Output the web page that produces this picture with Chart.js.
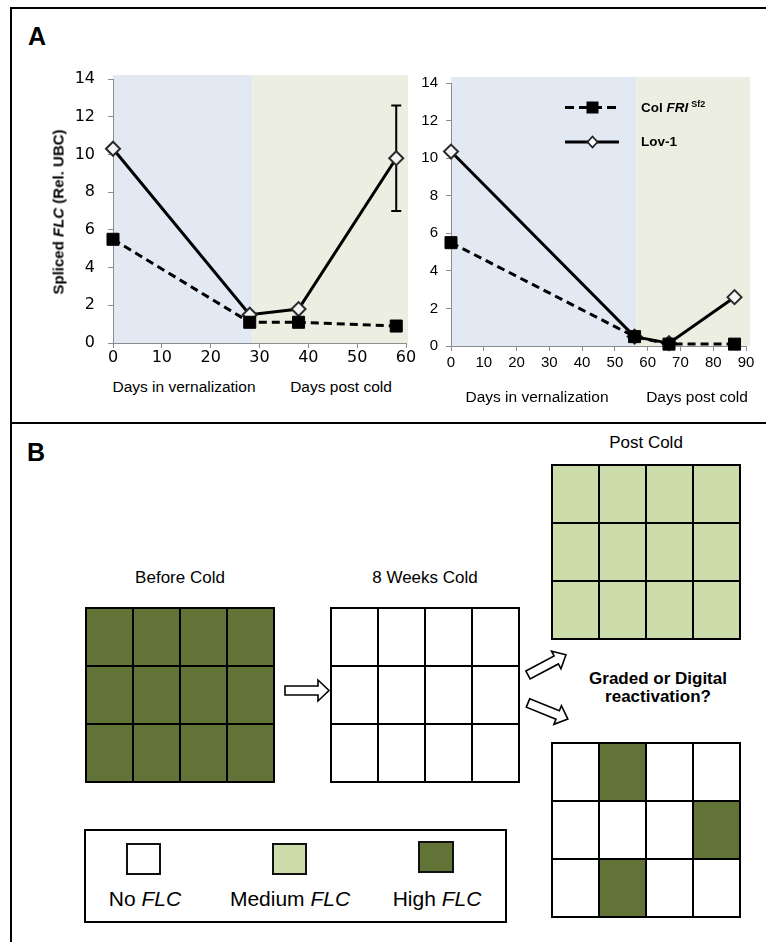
<!DOCTYPE html>
<html>
<head>
<meta charset="utf-8">
<script src="https://cdn.jsdelivr.net/npm/chart.js@4/dist/chart.umd.min.js"></script>
<style>
  html, body { margin: 0; padding: 0; background: #fff; }
  #fig { position: relative; width: 766px; height: 942px; overflow: hidden;
         font-family: "Liberation Sans", Arial, Helvetica, sans-serif; color: #000; }
  .abs { position: absolute; }
  .c { position: absolute; transform: translate(-50%, -50%); white-space: nowrap; line-height: 1; }
  canvas { position: absolute; }
  .rule { position: absolute; background: #000; }
  .swatch { position: absolute; box-sizing: border-box; border: 2px solid #111; }
  sup.s { font-size: 9px; vertical-align: 5px; margin-left: 3px; }
</style>
</head>
<body>
<div id="fig">
  <!-- frame -->
  <div class="rule" style="left:10px; top:7px; width:756px; height:2px"></div>
  <div class="rule" style="left:10px; top:7px; width:2px; height:935px"></div>
  <div class="rule" style="left:10px; top:422px; width:756px; height:2px"></div>

  <div class="abs" style="left:28px; top:24px; font-weight:bold; font-size:25px; line-height:1">A</div>
  <div class="abs" style="left:27px; top:440px; font-weight:bold; font-size:25px; line-height:1">B</div>

  <!-- panel A -->
  <canvas id="chartLeft" width="400" height="320" style="left:20px; top:50px"></canvas>
  <canvas id="chartRight" width="366" height="340" style="left:400px; top:50px"></canvas>

  <div class="c" style="left:58px; top:212px; transform:translate(-50%,-50%) rotate(-90deg); font-weight:bold; font-size:15px">Spliced <i>FLC</i> (Rel. UBC)</div>

  <div class="c" style="left:184px; top:387px; font-size:15.5px">Days in vernalization</div>
  <div class="c" style="left:341px; top:387px; font-size:15.5px">Days post cold</div>
  <div class="c" style="left:537px; top:397px; font-size:15.5px">Days in vernalization</div>
  <div class="c" style="left:697px; top:397px; font-size:15.5px">Days post cold</div>

  <div class="abs" style="left:641px; top:100px; font-weight:bold; font-size:13.5px; line-height:1">Col <i>FRI</i><sup class="s">Sf2</sup></div>
  <div class="abs" style="left:641px; top:135px; font-weight:bold; font-size:13.5px; line-height:1">Lov-1</div>

  <!-- panel B -->
  <div class="c" style="left:180px; top:577px; font-size:17px">Before Cold</div>
  <div class="c" style="left:425px; top:577px; font-size:17px">8 Weeks Cold</div>
  <div class="c" style="left:646px; top:442px; font-size:17px">Post Cold</div>
  <div class="c" style="left:658px; top:688px; font-weight:bold; font-size:17px; line-height:18px; text-align:center">Graded or Digital<br>reactivation?</div>

  <canvas id="gridBefore" width="190" height="176" style="left:85px; top:607px"></canvas>
  <canvas id="gridCold" width="190" height="176" style="left:330px; top:607px"></canvas>
  <canvas id="gridGraded" width="190" height="176" style="left:551px; top:464px"></canvas>
  <canvas id="gridDigital" width="190" height="176" style="left:551px; top:742px"></canvas>

  <div class="abs" style="left:84px; top:829px; width:423px; height:94px; box-sizing:border-box; border:2px solid #000"></div>
  <div class="swatch" style="left:126px; top:843px; width:35px; height:32px; background:#fff"></div>
  <div class="swatch" style="left:272px; top:843px; width:35px; height:32px; background:#cddcab"></div>
  <div class="swatch" style="left:418px; top:841px; width:36px; height:32px; background:#627337"></div>
  <div class="c" style="left:145px; top:898px; font-size:21px">No <i>FLC</i></div>
  <div class="c" style="left:290px; top:898px; font-size:21px">Medium <i>FLC</i></div>
  <div class="c" style="left:437px; top:898px; font-size:21px">High <i>FLC</i></div>

  <!-- legend line samples and arrows -->
  <svg class="abs" style="left:0; top:0; pointer-events:none" width="766" height="942">
    <line x1="565" y1="107.5" x2="620" y2="107.5" stroke="#000" stroke-width="3" stroke-dasharray="9,5"/>
    <rect x="586.5" y="101.5" width="12" height="12" fill="#000"/>
    <line x1="565" y1="142" x2="619" y2="142" stroke="#000" stroke-width="3"/>
    <polygon points="592.5,136.5 597.5,142 592.5,147.5 587.5,142" fill="#fff" stroke="#222" stroke-width="1.8"/>

    <g fill="#fff" stroke="#000" stroke-width="1.6" stroke-linejoin="miter">
      <polygon points="285,686 318,686 318,680 329,690.5 318,701 318,695 285,695"/>
      <g transform="translate(528,675) rotate(-28)">
        <polygon points="0,-4.5 32,-4.5 32,-10 43,0 32,10 32,4.5 0,4.5"/>
      </g>
      <g transform="translate(528,703) rotate(22)">
        <polygon points="0,-4.5 32,-4.5 32,-10 43,0 32,10 32,4.5 0,4.5"/>
      </g>
    </g>
  </svg>
</div>

<script>
// ---- spliced FLC time courses ----
const leftDays     = [0, 28, 38, 58];
const leftColFRI   = [5.5, 1.1, 1.1, 0.9];
const leftLov1     = [10.3, 1.5, 1.8, 9.8];
const leftLov1Err  = [null, null, null, 2.8];

const rightDays    = [0, 56, 66.5, 86.5];
const rightColFRI  = [5.5, 0.5, 0.1, 0.1];
const rightLov1    = [10.35, 0.5, 0.15, 2.6];
const rightLov1Err = [null, null, null, null];

const leftColdEnd  = 28.5;   // end of the cold treatment (days)
const rightColdEnd = 56.6;

const yTickValues      = [0, 2, 4, 6, 8, 10, 12, 14];
const leftXTickValues  = [0, 10, 20, 30, 40, 50, 60];
const rightXTickValues = [0, 10, 20, 30, 40, 50, 60, 70, 80, 90];

// ---- cell states per grid (0 = no FLC, 1 = medium, 2 = high), top row first ----
const beforeColdCells = [[2, 2, 2, 2], [2, 2, 2, 2], [2, 2, 2, 2]];
const weeks8ColdCells = [[0, 0, 0, 0], [0, 0, 0, 0], [0, 0, 0, 0]];
const gradedCells     = [[1, 1, 1, 1], [1, 1, 1, 1], [1, 1, 1, 1]];
const digitalCells    = [[0, 2, 0, 0], [0, 0, 0, 2], [0, 2, 0, 0]];

const COLD_BG = '#e2e9f3';
const POST_BG = '#eceee2';
const AXIS_GRAY = '#8c8c8c';
const CELL_FILL = ['#ffffff', '#cddcab', '#627337'];

// shaded treatment periods behind each plot
const bandPlugin = {
  id: 'bands',
  beforeDraw(chart, args, opts) {
    const { ctx, scales: { x, y } } = chart;
    const top = y.getPixelForValue(y.max) - opts.extendTop;
    const bottom = y.getPixelForValue(0);
    const x0 = x.getPixelForValue(0);
    const xc = x.getPixelForValue(opts.coldEnd);
    const x1 = x.getPixelForValue(x.max) + opts.extendRight;
    ctx.save();
    ctx.fillStyle = COLD_BG;
    ctx.fillRect(x0, top, xc - x0, bottom - top);
    ctx.fillStyle = POST_BG;
    ctx.fillRect(xc, top, x1 - xc, bottom - top);
    ctx.restore();
  }
};

// vertical error bars with caps, drawn under the markers
const errorBarPlugin = {
  id: 'errorBars',
  beforeDatasetsDraw(chart) {
    const { ctx, scales: { x, y } } = chart;
    ctx.save();
    ctx.strokeStyle = '#000';
    ctx.lineWidth = 2;
    chart.data.datasets.forEach(ds => {
      if (!ds.errorBars) return;
      ds.data.forEach((p, i) => {
        const e = ds.errorBars[i];
        if (e == null) return;
        const px = x.getPixelForValue(p.x);
        const yHi = y.getPixelForValue(p.y + e);
        const yLo = y.getPixelForValue(p.y - e);
        ctx.beginPath();
        ctx.moveTo(px, yHi); ctx.lineTo(px, yLo);
        ctx.moveTo(px - 5, yHi); ctx.lineTo(px + 5, yHi);
        ctx.moveTo(px - 5, yLo); ctx.lineTo(px + 5, yLo);
        ctx.stroke();
      });
    });
    ctx.restore();
  }
};

function points(days, values) {
  return days.map((d, i) => ({ x: d, y: values[i] }));
}

function timeCourse(id, o) {
  return new Chart(document.getElementById(id), {
    type: 'line',
    data: {
      datasets: [
        {
          label: 'Col FRI Sf2',
          data: points(o.days, o.col),
          borderColor: '#000', borderWidth: 3, borderDash: [8, 5],
          pointStyle: 'rect', pointRadius: 8.5,
          pointBackgroundColor: '#000', pointBorderColor: '#000', pointBorderWidth: 1,
          tension: 0, clip: false
        },
        {
          label: 'Lov-1',
          data: points(o.days, o.lov),
          errorBars: o.err,
          borderColor: '#000', borderWidth: 3,
          pointStyle: 'rectRot', pointRadius: 7,
          pointBackgroundColor: '#f4f4f4', pointBorderColor: '#2a2a2a', pointBorderWidth: 2,
          tension: 0, clip: false
        }
      ]
    },
    options: {
      responsive: false, animation: false, events: [],
      layout: { padding: { top: o.padTop, right: o.padRight, left: 0, bottom: 0 } },
      plugins: {
        legend: { display: false },
        tooltip: { enabled: false },
        bands: { coldEnd: o.coldEnd, extendTop: o.extTop, extendRight: o.extRight }
      },
      scales: {
        x: {
          type: 'linear', min: 0, max: o.xTicks[o.xTicks.length - 1],
          afterBuildTicks: s => { s.ticks = o.xTicks.map(v => ({ value: v })); },
          afterFit: s => { s.height = o.xAxisH; },
          grid: { drawOnChartArea: false, drawTicks: true, tickLength: 5, color: AXIS_GRAY },
          border: { display: true, color: AXIS_GRAY, width: 1 },
          ticks: { font: o.font, color: '#000', padding: o.xPad, maxRotation: 0, autoSkip: false }
        },
        y: {
          type: 'linear', min: 0, max: 14,
          afterBuildTicks: s => { s.ticks = yTickValues.map(v => ({ value: v })); },
          afterFit: s => { s.width = o.yAxisW; },
          grid: { drawOnChartArea: false, drawTicks: true, tickLength: 5, color: AXIS_GRAY },
          border: { display: true, color: AXIS_GRAY, width: 1 },
          ticks: { font: o.font, color: '#000', padding: o.yPad }
        }
      }
    },
    plugins: [bandPlugin, errorBarPlugin]
  });
}

timeCourse('chartLeft', {
  days: leftDays, col: leftColFRI, lov: leftLov1, err: leftLov1Err,
  xTicks: leftXTickValues, coldEnd: leftColdEnd,
  padTop: 29, padRight: 14, yAxisW: 93, xAxisH: 27, xPad: 0, yPad: 13,
  extTop: 4, extRight: 2,
  font: { family: '"DejaVu Sans", sans-serif', size: 16 }
});

timeCourse('chartRight', {
  days: rightDays, col: rightColFRI, lov: rightLov1, err: rightLov1Err,
  xTicks: rightXTickValues, coldEnd: rightColdEnd,
  padTop: 33, padRight: 20, yAxisW: 51, xAxisH: 44, xPad: 3, yPad: 8,
  extTop: 6, extRight: 4,
  font: { family: '"Liberation Sans", Arial, sans-serif', size: 15 }
});

// ---- cell grids as stacked unit bars ----
const gridFrame = {
  id: 'gridFrame',
  afterDraw(chart) {
    const { ctx, chartArea: a } = chart;
    ctx.save();
    ctx.strokeStyle = '#000';
    ctx.lineWidth = 2;
    ctx.strokeRect(a.left, a.top, a.right - a.left, a.bottom - a.top);
    ctx.restore();
  }
};

function cellGrid(id, cells) {
  const rowsBottomUp = cells.slice().reverse();
  return new Chart(document.getElementById(id), {
    type: 'bar',
    data: {
      labels: cells[0].map((_, i) => 'col ' + (i + 1)),
      datasets: rowsBottomUp.map(row => ({
        data: row.map(() => 1),
        backgroundColor: row.map(s => CELL_FILL[s]),
        borderColor: '#000', borderWidth: 1, borderSkipped: false,
        inflateAmount: 0,
        barPercentage: 1, categoryPercentage: 1
      }))
    },
    options: {
      responsive: false, animation: false, events: [],
      layout: { padding: 1 },
      plugins: { legend: { display: false }, tooltip: { enabled: false } },
      scales: {
        x: { display: false, stacked: true },
        y: { display: false, stacked: true, min: 0, max: cells.length }
      }
    },
    plugins: [gridFrame]
  });
}

cellGrid('gridBefore', beforeColdCells);
cellGrid('gridCold', weeks8ColdCells);
cellGrid('gridGraded', gradedCells);
cellGrid('gridDigital', digitalCells);
</script>
</body>
</html>
